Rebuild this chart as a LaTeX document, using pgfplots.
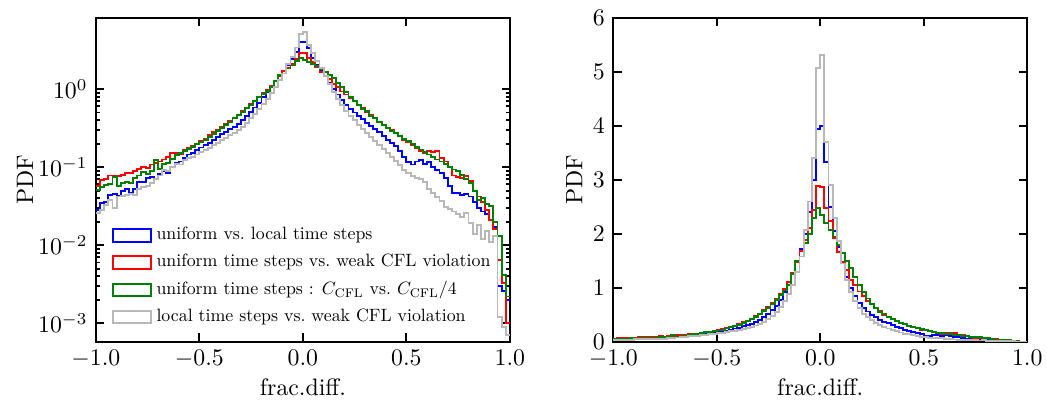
\documentclass[border=0pt]{standalone}
\usepackage{pgfplots}
\usepackage{pgfplotstable}
\pgfplotsset{compat=1.18}

\definecolor{cblue}{rgb}{0,0,1}
\definecolor{cred}{rgb}{1,0,0}
\definecolor{cgreen}{rgb}{0,0.5,0}
\definecolor{cgray}{rgb}{0.72,0.72,0.72}

% legend text: 10pt design shapes shrunk to 3/4
\newcommand{\leg}[1]{\scalebox{0.75}{\fontsize{10}{12}\selectfont #1}}

% histogram bins: left edge, then PDF of each comparison
% b: uniform vs local, r: uniform vs weak CFL, g: C_CFL vs C_CFL/4, k: local vs weak CFL
\pgfplotstableread{
x b r g k
-1.00 0.028 0.058 0.051 0.026
-0.98 0.035 0.068 0.055 0.028
-0.96 0.036 0.070 0.059 0.033
-0.94 0.044 0.078 0.060 0.038
-0.92 0.045 0.077 0.074 0.030
-0.90 0.043 0.077 0.058 0.042
-0.88 0.050 0.079 0.062 0.043
-0.86 0.052 0.085 0.065 0.044
-0.84 0.046 0.084 0.063 0.045
-0.82 0.053 0.088 0.072 0.044
-0.80 0.065 0.094 0.078 0.052
-0.78 0.064 0.100 0.087 0.055
-0.76 0.072 0.097 0.082 0.058
-0.74 0.074 0.108 0.090 0.062
-0.72 0.070 0.113 0.122 0.070
-0.70 0.082 0.118 0.095 0.078
-0.68 0.088 0.125 0.110 0.092
-0.66 0.085 0.134 0.112 0.088
-0.64 0.100 0.150 0.128 0.100
-0.62 0.112 0.152 0.143 0.110
-0.60 0.118 0.148 0.150 0.108
-0.58 0.130 0.165 0.162 0.122
-0.56 0.145 0.176 0.172 0.130
-0.54 0.150 0.184 0.183 0.135
-0.52 0.165 0.198 0.195 0.145
-0.50 0.178 0.215 0.208 0.155
-0.48 0.190 0.232 0.222 0.165
-0.46 0.205 0.255 0.245 0.175
-0.44 0.222 0.280 0.265 0.190
-0.42 0.245 0.300 0.290 0.205
-0.40 0.262 0.330 0.315 0.220
-0.38 0.285 0.360 0.345 0.235
-0.36 0.305 0.390 0.380 0.255
-0.34 0.330 0.430 0.420 0.275
-0.32 0.360 0.470 0.460 0.300
-0.30 0.400 0.520 0.510 0.330
-0.28 0.450 0.580 0.570 0.370
-0.26 0.510 0.640 0.630 0.420
-0.24 0.580 0.710 0.700 0.480
-0.22 0.660 0.790 0.780 0.550
-0.20 0.780 0.880 0.860 0.640
-0.18 0.920 0.980 0.950 0.750
-0.16 1.050 1.100 1.050 0.880
-0.14 1.250 1.270 1.250 1.050
-0.12 1.500 1.480 1.500 1.300
-0.10 1.720 1.680 1.580 1.580
-0.08 2.000 1.880 1.830 2.070
-0.06 2.400 2.100 2.000 2.600
-0.04 3.000 2.450 2.300 3.400
-0.02 3.950 2.880 2.480 5.070
0.00 4.000 2.870 2.350 5.320
0.02 3.340 2.480 2.200 3.710
0.04 2.500 2.230 2.070 2.910
0.06 2.050 1.920 1.950 2.290
0.08 1.750 1.670 1.800 1.860
0.10 1.450 1.480 1.650 1.450
0.12 1.200 1.330 1.500 1.150
0.14 1.000 1.150 1.370 0.920
0.16 0.850 1.050 1.200 0.750
0.18 0.720 0.930 1.050 0.620
0.20 0.630 0.850 0.920 0.520
0.22 0.560 0.760 0.800 0.450
0.24 0.500 0.700 0.700 0.400
0.26 0.450 0.630 0.620 0.350
0.28 0.410 0.570 0.550 0.310
0.30 0.370 0.500 0.520 0.275
0.32 0.340 0.460 0.450 0.245
0.34 0.310 0.420 0.420 0.215
0.36 0.280 0.380 0.380 0.190
0.38 0.250 0.350 0.350 0.170
0.40 0.225 0.320 0.320 0.150
0.42 0.205 0.300 0.290 0.135
0.44 0.185 0.275 0.270 0.120
0.46 0.160 0.250 0.250 0.105
0.48 0.135 0.225 0.230 0.092
0.50 0.115 0.210 0.215 0.083
0.52 0.108 0.190 0.200 0.076
0.54 0.118 0.175 0.180 0.072
0.56 0.122 0.160 0.168 0.070
0.58 0.110 0.150 0.155 0.064
0.60 0.115 0.162 0.145 0.052
0.62 0.100 0.155 0.135 0.046
0.64 0.092 0.162 0.125 0.041
0.66 0.085 0.130 0.118 0.037
0.68 0.072 0.118 0.110 0.031
0.70 0.058 0.100 0.100 0.029
0.72 0.047 0.078 0.093 0.027
0.74 0.046 0.074 0.088 0.025
0.76 0.044 0.072 0.080 0.023
0.78 0.045 0.077 0.070 0.026
0.80 0.042 0.066 0.063 0.019
0.82 0.036 0.050 0.050 0.014
0.84 0.030 0.042 0.038 0.018
0.86 0.027 0.036 0.040 0.012
0.88 0.025 0.028 0.034 0.015
0.90 0.021 0.021 0.032 0.011
0.92 0.017 0.016 0.020 0.013
0.94 0.0030 0.0065 0.013 0.0012
0.96 0.0026 0.0033 0.0042 0.0009
0.98 0.0020 0.0010 0.0022 0.0007
1.00 0.0020 0.0010 0.0022 0.0007
}\hist

\pgfplotsset{
  panel/.style={
    scale only axis,
    width=174pt, height=136pt,
    anchor=south west,
    xmin=-1, xmax=1,
    xtick={-1,-0.5,0,0.5,1},
    xticklabel style={/pgf/number format/.cd, fixed, fixed zerofill, precision=1},
    tick pos=both, tick align=inside,
    major tick length=3.5pt, minor tick length=1.8pt,
    every tick/.style={black, line width=0.8pt},
    axis line style={line width=0.8pt},
    xlabel={frac.diff.},
    ylabel={PDF},
    xlabel style={at={(axis description cs:0.5,-0.142)}, anchor=center},
    every axis plot/.append style={const plot, line width=0.8pt, mark=none},
  },
}

\begin{document}
\begin{tikzpicture}
\begin{axis}[panel,
  at={(40.3pt,24.5pt)},
  ymode=log, ymin=5.8e-4, ymax=8.1,
  ytick={0.001,0.01,0.1,1},
  ylabel style={at={(axis description cs:-0.171,0.5)}, anchor=center},
  legend cell align=left,
  legend image code/.code={\draw[#1] (0pt,-2.6pt) rectangle (16pt,2.6pt);},
  legend style={at={(0.02,0.02)}, anchor=south west, draw=none, fill=none,
    font=\fontsize{7.5}{9}\selectfont, row sep=0.55pt},
]
\addplot[cblue] table[x=x, y=b]{\hist};
\addlegendentry{\leg{uniform vs.\ local time steps}}
\addplot[cred] table[x=x, y=r]{\hist};
\addlegendentry{\leg{uniform time steps vs.\ weak CFL violation}}
\addplot[cgreen] table[x=x, y=g]{\hist};
\addlegendentry{\leg{uniform time steps : $C_{\mathrm{CFL}}$ vs.\ $C_{\mathrm{CFL}}/4$}}
\addplot[cgray] table[x=x, y=k]{\hist};
\addlegendentry{\leg{local time steps vs.\ weak CFL violation}}
\end{axis}

\begin{axis}[panel,
  at={(257.7pt,24.5pt)},
  ymin=0, ymax=6,
  ytick={0,1,2,3,4,5,6},
  ylabel style={at={(axis description cs:-0.094,0.5)}, anchor=center},
]
\addplot[cblue] table[x=x, y=b]{\hist};
\addplot[cred] table[x=x, y=r]{\hist};
\addplot[cgreen] table[x=x, y=g]{\hist};
\addplot[cgray] table[x=x, y=k]{\hist};
\end{axis}

\pgfresetboundingbox
\path[use as bounding box] (0,0) rectangle (440pt,168.1pt);
\end{tikzpicture}
\end{document}
